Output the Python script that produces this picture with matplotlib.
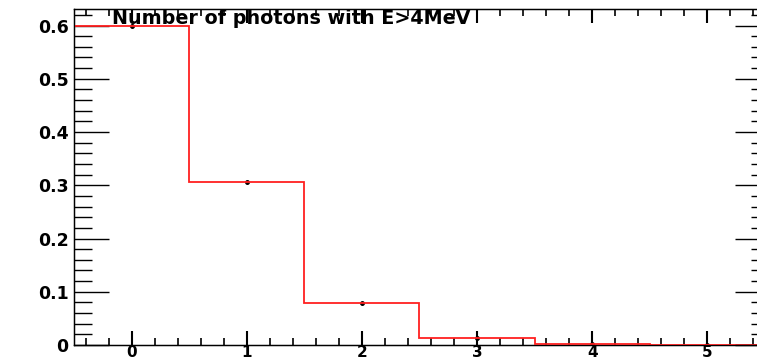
import matplotlib
matplotlib.use("Agg")
import matplotlib.pyplot as plt
from matplotlib.ticker import MultipleLocator

# number of photons with E>4MeV, per event
n_photons = [0, 1, 2, 3, 4, 5]
fraction = [0.600, 0.306, 0.078, 0.014, 0.002, 0.0005]
errors = [0.004, 0.003, 0.002, 0.003, 0.001, 0.0005]
bin_edges = [-0.5, 0.5, 1.5, 2.5, 3.5, 4.5, 5.5]
ytick_vals = [0, 0.1, 0.2, 0.3, 0.4, 0.5, 0.6]
ytick_labels = ['0', '0.1', '0.2', '0.3', '0.4', '0.5', '0.6']

plt.rcParams['font.family'] = ['DejaVu Sans']

fig = plt.figure(figsize=(7.57, 3.61), dpi=100)
ax = fig.add_axes([74 / 757, 16 / 361, 1 - 74 / 757 + 0.002, (345.5 - 9) / 361])

ax.errorbar(n_photons, fraction, yerr=errors, fmt='o', ms=2.5, color='black',
            elinewidth=1, capsize=0, zorder=2)
ax.stairs(fraction, bin_edges, color='#ff2020', lw=1.3, baseline=None, zorder=3)

ax.set_xlim(-0.5, 5.445)
ax.set_ylim(0, 0.632)

ax.xaxis.set_major_locator(MultipleLocator(1))
ax.xaxis.set_minor_locator(MultipleLocator(0.2))
ax.yaxis.set_minor_locator(MultipleLocator(0.02))
ax.set_yticks(ytick_vals)
ax.set_yticklabels(ytick_labels)

ax.tick_params(axis='both', which='both', direction='in', top=True, right=False,
               colors='black')
ax.tick_params(axis='y', which='major', length=25, width=1, pad=4, labelsize=12.5)
ax.tick_params(axis='y', which='minor', length=13, width=1)
ax.tick_params(axis='x', which='major', length=10, width=1.5, pad=0, labelsize=11)
ax.tick_params(axis='x', which='minor', length=5, width=1.2)
for lab in ax.get_xticklabels() + ax.get_yticklabels():
    lab.set_fontweight('bold')

# right-hand ticks are shorter than the left ones
ax2 = ax.twinx()
ax2.set_ylim(ax.get_ylim())
ax2.set_yticks(ytick_vals)
ax2.yaxis.set_minor_locator(MultipleLocator(0.02))
ax2.tick_params(axis='y', which='both', direction='in', labelright=False, width=1)
ax2.tick_params(axis='y', which='major', length=17)
ax2.tick_params(axis='y', which='minor', length=6)

for sp in ax.spines.values():
    sp.set_linewidth(1)

ax.text(112 / 757, 1 - 19 / 361, 'Number of photons with E>4MeV', transform=fig.transFigure,
        fontsize=13.8, fontweight='bold', va='center', ha='left')

fig.savefig('out.png', dpi=100)
